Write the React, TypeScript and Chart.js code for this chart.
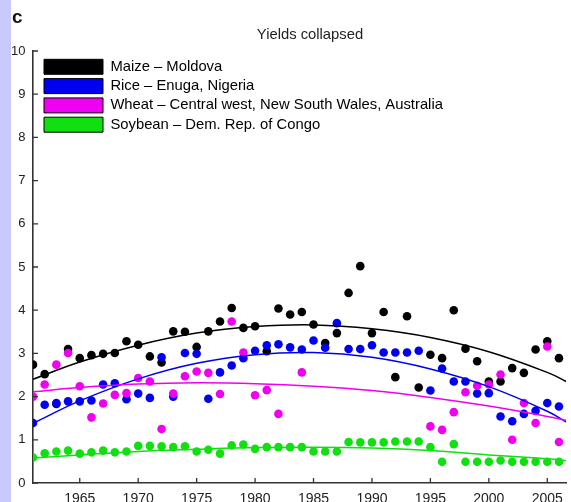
import React, { useEffect, useRef } from "react";
import { Chart, registerables } from "chart.js";

Chart.register(...registerables);

const years = [
  1961, 1962, 1963, 1964, 1965, 1966, 1967, 1968, 1969, 1970,
  1971, 1972, 1973, 1974, 1975, 1976, 1977, 1978, 1979, 1980,
  1981, 1982, 1983, 1984, 1985, 1986, 1987, 1988, 1989, 1990,
  1991, 1992, 1993, 1994, 1995, 1996, 1997, 1998, 1999, 2000,
  2001, 2002, 2003, 2004, 2005, 2006,
];

const maizeMoldova = [
  2.74, 2.52, 1.83, 3.10, 2.89, 2.96, 2.99, 3.01, 3.28, 3.20,
  2.93, 2.79, 3.51, 3.50, 3.15, 3.51, 3.74, 4.05, 3.59, 3.63,
  3.05, 4.04, 3.90, 3.96, 3.67, 3.24, 3.47, 4.40, 5.02, 3.47,
  3.96, 2.45, 3.86, 2.21, 2.97, 2.89, 4.00, 3.11, 2.82, 2.35,
  2.35, 2.66, 2.55, 3.09, 3.28, 2.89,
];

const riceNigeria = [
  1.39, 1.81, 1.85, 1.89, 1.89, 1.91, 2.28, 2.31, 1.94, 2.07,
  1.97, 2.91, 2.00, 3.01, 2.99, 1.95, 2.56, 2.72, 2.89, 3.06,
  3.19, 3.21, 3.14, 3.09, 3.30, 3.13, 3.70, 3.10, 3.10, 3.19,
  3.02, 3.02, 3.02, 3.06, 2.14, 2.65, 2.35, 2.35, 2.07, 2.08,
  1.54, 1.43, 1.60, 1.67, 1.85, 1.77,
];

const wheatNSW = [
  2.00, 2.28, 2.74, 3.01, 2.24, 1.52, 1.84, 2.04, 2.08, 2.43,
  2.35, 1.25, 2.07, 2.47, 2.58, 2.55, 2.06, 3.74, 3.02, 2.03,
  2.15, 1.60, null, 2.56, null, null, null, null, null, null,
  null, null, null, null, 1.31, 1.23, 1.64, 2.10, 2.25, 2.28,
  2.51, 1.00, 1.85, 1.39, 3.16, 0.95,
];

const soybeanCongo = [
  0.59, 0.69, 0.73, 0.75, 0.68, 0.71, 0.75, 0.71, 0.73, 0.86,
  0.86, 0.85, 0.83, 0.85, 0.73, 0.77, 0.68, 0.87, 0.89, 0.79,
  0.83, 0.83, 0.83, 0.83, 0.73, 0.73, 0.73, 0.95, 0.94, 0.94,
  0.94, 0.96, 0.96, 0.96, 0.83, 0.49, 0.90, 0.49, 0.49, 0.49,
  0.52, 0.49, 0.49, 0.49, 0.49, 0.49,
];

// Fitted trend curves
const trendYears = [1961, 1965, 1970, 1975, 1980, 1985, 1990, 1995, 2000, 2005, 2007];
const maizeTrend = [2.40, 2.80, 3.19, 3.47, 3.62, 3.66, 3.57, 3.37, 3.04, 2.56, 2.30];
const riceTrend = [1.38, 1.90, 2.41, 2.77, 2.97, 3.02, 2.91, 2.64, 2.23, 1.66, 1.35];
const wheatTrend = [2.11, 2.21, 2.29, 2.32, 2.30, 2.24, 2.14, 1.98, 1.78, 1.54, 1.43];
const soybeanTrend = [0.58, 0.65, 0.73, 0.78, 0.82, 0.83, 0.81, 0.75, 0.65, 0.56, 0.51];

const seriesLabels = [
  "Maize \u2013 Moldova",
  "Rice \u2013 Enuga, Nigeria",
  "Wheat \u2013 Central west, New South Wales, Australia",
  "Soybean \u2013 Dem. Rep. of Congo",
];
const seriesColors = ["#000000", "#0000f0", "#f000f0", "#10e010"];

const xTickYears = [1965, 1970, 1975, 1980, 1985, 1990, 1995, 2000, 2005];
const yTickValues = [0, 1, 2, 3, 4, 5, 6, 7, 8, 9, 10];

const titleText = "Yields collapsed";
const panelLetter = "c";

const FONT = "'Liberation Sans', Arial, Helvetica, sans-serif";

function toPoints(xs: number[], ys: (number | null)[]) {
  const out: { x: number; y: number }[] = [];
  xs.forEach((x, i) => {
    const y = ys[i];
    if (y !== null && y !== undefined) out.push({ x, y });
  });
  return out;
}

export default function App() {
  const ref = useRef<HTMLCanvasElement | null>(null);

  useEffect(() => {
    if (!ref.current) return;
    const pointSets = [maizeMoldova, riceNigeria, wheatNSW, soybeanCongo];
    const trendSets = [maizeTrend, riceTrend, wheatTrend, soybeanTrend];

    const scatterDatasets = pointSets.map((arr, i) => ({
      label: seriesLabels[i],
      data: toPoints(years, arr),
      showLine: false,
      pointRadius: 4.3,
      pointHoverRadius: 4.3,
      pointBorderWidth: 0,
      backgroundColor: seriesColors[i],
      borderColor: seriesColors[i],
      order: 8 - i,
    }));

    const trendDatasets = trendSets.map((arr, i) => ({
      label: seriesLabels[i] + " trend",
      data: toPoints(trendYears, arr),
      showLine: true,
      pointRadius: 0,
      borderWidth: 1.5,
      borderColor: seriesColors[i],
      backgroundColor: seriesColors[i],
      tension: 0.4,
      fill: false,
      order: 4 - i,
    }));

    const decorPlugin = {
      id: "decor",
      beforeDraw(chart: any) {
        const ctx = chart.ctx;
        ctx.save();
        ctx.fillStyle = "#fff";
        ctx.fillRect(0, 0, chart.width, chart.height);
        ctx.fillStyle = "#c9c9fb";
        ctx.fillRect(0, 0, 11, chart.height);
        ctx.restore();
      },
      afterLayout(chart: any) {
        const lg = chart.legend;
        const area = chart.chartArea;
        if (lg && area) {
          const h = lg.height;
          lg.left = area.left + 6.7;
          lg.right = lg.left + lg.width;
          lg.top = area.top + 4;
          lg.bottom = lg.top + h;
        }
      },
      afterDraw(chart: any) {
        const ctx = chart.ctx;
        const xs = chart.scales.x;
        const ys = chart.scales.y;
        const area = chart.chartArea;
        ctx.save();
        ctx.strokeStyle = "#333";
        ctx.lineWidth = 1.3;
        ctx.beginPath();
        yTickValues.forEach((v) => {
          const py = ys.getPixelForValue(v);
          ctx.moveTo(area.left, py);
          ctx.lineTo(area.left + 5, py);
        });
        xTickYears.forEach((v) => {
          const px = xs.getPixelForValue(v);
          ctx.moveTo(px, area.bottom);
          ctx.lineTo(px, area.bottom - 5);
        });
        ctx.stroke();

        ctx.fillStyle = "#222";
        ctx.textAlign = "center";
        ctx.textBaseline = "alphabetic";
        ctx.font = `14.8px ${FONT}`;
        ctx.fillText(titleText, 310, 38.5);

        ctx.textAlign = "left";
        ctx.fillStyle = "#111";
        ctx.font = `bold 19px ${FONT}`;
        ctx.fillText(panelLetter, 12, 22.7);
        ctx.restore();
      },
    };

    const chart = new Chart(ref.current, {
      type: "scatter",
      data: { datasets: [...scatterDatasets, ...trendDatasets] as any },
      options: {
        responsive: false,
        animation: false,
        layout: { padding: { top: 51, left: 0, right: 0, bottom: 0 } },
        plugins: {
          tooltip: { enabled: false },
          title: { display: false },
          legend: {
            display: true,
            position: "chartArea" as any,
            align: "start",
            labels: {
              boxWidth: 59,
              boxHeight: 15,
              padding: 4.3,
              color: "#222",
              font: { size: 14.8, family: FONT },
              generateLabels: (c: any) =>
                seriesLabels.map((t, i) => ({
                  text: t,
                  fillStyle: seriesColors[i],
                  strokeStyle: "#000",
                  lineWidth: 1,
                  hidden: false,
                  datasetIndex: i,
                })),
            },
          },
        },
        scales: {
          x: {
            type: "linear",
            min: 1961,
            max: 2006.61,
            afterFit: (s: any) => {
              s.height = 19;
            },
            afterBuildTicks: (s: any) => {
              s.ticks = xTickYears.map((v) => ({ value: v }));
            },
            grid: { display: false, drawTicks: false },
            border: { display: true, color: "#333", width: 1.6 },
            ticks: {
              padding: 8,
              color: "#222",
              font: { size: 14, family: FONT },
              maxRotation: 0,
              autoSkip: false,
              callback: (v: any) => String(v),
            },
          },
          y: {
            type: "linear",
            min: 0,
            max: 10,
            afterFit: (s: any) => {
              s.width = 33;
            },
            afterBuildTicks: (s: any) => {
              s.ticks = yTickValues.map((v) => ({ value: v }));
            },
            grid: { display: false, drawTicks: false },
            border: { display: true, color: "#333", width: 1.6 },
            ticks: {
              padding: 7.5,
              color: "#222",
              font: { size: 13, family: FONT },
              autoSkip: false,
              callback: (v: any) => String(v),
            },
          },
        },
      },
      plugins: [decorPlugin],
    });

    return () => chart.destroy();
  }, []);

  return (
    <div style={{ position: "absolute", left: 0, top: 0, width: 571, height: 502 }}>
      <canvas ref={ref} width={571} height={502} style={{ display: "block" }} />
    </div>
  );
}
